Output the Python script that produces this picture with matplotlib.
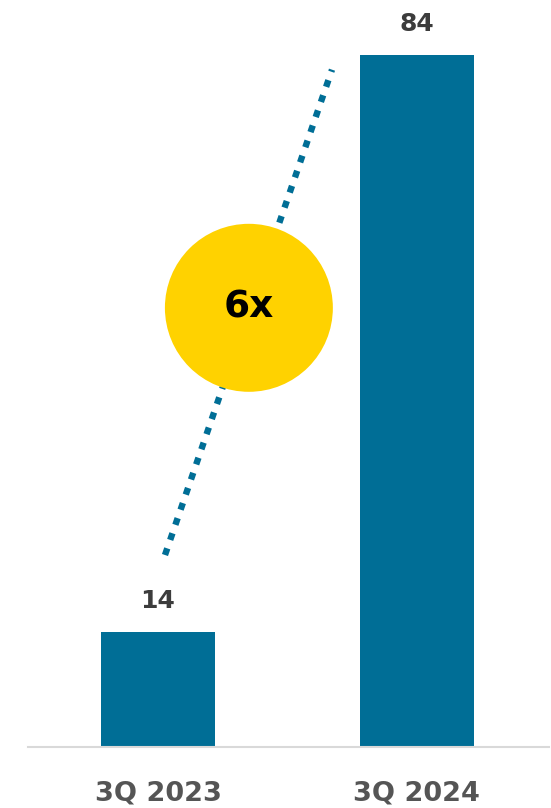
import matplotlib
matplotlib.use("Agg")
import matplotlib.pyplot as plt
from matplotlib.patches import Ellipse

# Data
categories = ["3Q 2023", "3Q 2024"]
values = [14, 84]
multiple_label = "6x"

bar_color = "#006E96"
label_color = "#3C3C3C"
tick_color = "#555555"
accent = "#FFD200"

fig = plt.figure(figsize=(5.51, 8.08), dpi=100)
ax = fig.add_axes([28 / 551, 61 / 808, 521 / 551, 741.6 / 808])

x = list(range(len(categories)))
ax.bar(x, values, width=0.44, color=bar_color, zorder=2)

ax.set_xlim(-0.502, 1.51)
ax.set_ylim(0, 90)

# Value labels above bars
for xi, v in zip(x, values):
    ax.annotate(f"{v}", (xi, v), xytext=(0, 22), textcoords="offset points",
                ha="center", va="center", fontsize=18, fontweight="bold",
                color=label_color)

# Axis styling
for side in ["top", "left", "right"]:
    ax.spines[side].set_visible(False)
ax.spines["bottom"].set_color("#D9D9D9")
ax.spines["bottom"].set_linewidth(1.5)
ax.spines["bottom"].set_zorder(3)
ax.set_yticks([])
ax.set_xticks(x)
ax.set_xticklabels(categories, fontsize=19.5, fontweight="bold", color=tick_color)
ax.tick_params(axis="x", length=0, pad=24)

# Dotted growth line between the bars
ax.plot([0.027, 0.672], [23.3, 82.2], color=bar_color, linewidth=4.6,
        dashes=(1.1, 1.4), solid_capstyle="butt", dash_capstyle="butt", zorder=1)

# Growth badge
cx, cy = 0.351, 53.3
ax.add_patch(Ellipse((cx, cy), width=168 / 259, height=168 / 8.24,
                     facecolor=accent, edgecolor="none", zorder=4))
ax.text(cx, cy, multiple_label, ha="center", va="center", fontsize=27,
        fontweight="bold", color="black", zorder=5)

fig.savefig("out.png", dpi=100)
